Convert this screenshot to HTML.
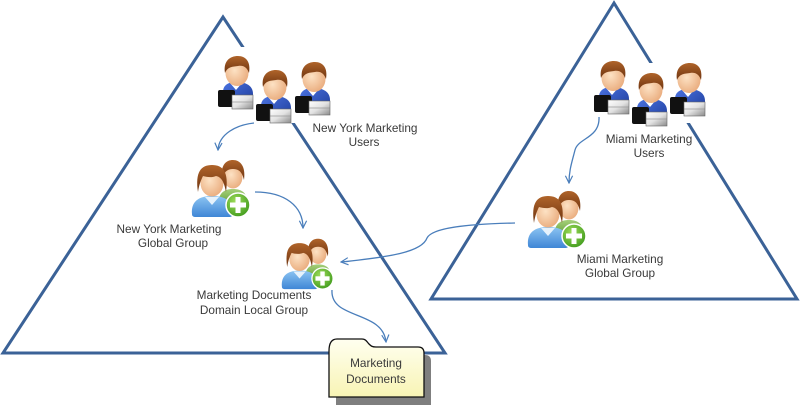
<!DOCTYPE html>
<html><head><meta charset="utf-8"><style>
html,body{margin:0;padding:0;background:#fff;}
svg{display:block;}
text{font-family:"Liberation Sans",sans-serif;font-size:11.8px;fill:#3a3a3a;}
</style></head><body>
<svg width="800" height="408" viewBox="0 0 800 408" xmlns="http://www.w3.org/2000/svg">
<defs>
 <linearGradient id="gBlue" x1="0" y1="0" x2="1" y2="1"><stop offset="0" stop-color="#4a72e0"/><stop offset="1" stop-color="#1e3c9a"/></linearGradient>
 <linearGradient id="gGray" x1="0" y1="0" x2="1" y2="1"><stop offset="0" stop-color="#ffffff"/><stop offset="0.5" stop-color="#e2e2e2"/><stop offset="1" stop-color="#8a8a8a"/></linearGradient>
 <radialGradient id="gFace" cx="0.4" cy="0.4" r="0.7"><stop offset="0" stop-color="#fde2c4"/><stop offset="1" stop-color="#e8a878"/></radialGradient>
 <linearGradient id="gHair" x1="0" y1="0" x2="0" y2="1"><stop offset="0" stop-color="#b0642a"/><stop offset="1" stop-color="#6e3410"/></linearGradient>
 <linearGradient id="gLBlue" x1="0" y1="0" x2="0" y2="1"><stop offset="0" stop-color="#8cc4f2"/><stop offset="1" stop-color="#3f86d6"/></linearGradient>
 <linearGradient id="gGreenShirt" x1="0" y1="0" x2="0" y2="1"><stop offset="0" stop-color="#a6d07a"/><stop offset="1" stop-color="#5c9a32"/></linearGradient>
 <radialGradient id="gPlus" cx="0.4" cy="0.35" r="0.7"><stop offset="0" stop-color="#9fdc5a"/><stop offset="1" stop-color="#3f9a1c"/></radialGradient>
 <linearGradient id="gFolder" x1="0" y1="0" x2="0" y2="1"><stop offset="0" stop-color="#fffff0"/><stop offset="1" stop-color="#f8f4b4"/></linearGradient>

 <symbol id="user" viewBox="0 0 36 54">
  <path d="M5,36 C5,28 12,26 18,26 C27,26 35,29 35,38 L35,50 L5,50 Z" fill="url(#gBlue)"/>
  <path d="M12,27 L18,34 L24,27 Z" fill="#fff"/>
  <rect x="0" y="34" width="17" height="17" rx="2" fill="#111"/>
  <path d="M14,39 L35,39 L35,53 L14,53 Z" fill="url(#gGray)"/>
  <line x1="14" y1="46" x2="35" y2="46" stroke="#999" stroke-width="0.8"/>
  <rect x="14" y="39" width="21" height="14" fill="none" stroke="#666" stroke-width="0.6"/>
  <ellipse cx="19" cy="17" rx="11.5" ry="13" fill="url(#gFace)"/>
  <path d="M7,17 C5,5 12,0 20,0 C28,0 33,6 31,17 C29,11 25,9 20,10 C15,11 10,10 7,17 Z" fill="url(#gHair)"/>
 </symbol>

 <symbol id="group" viewBox="0 0 62 60">
  <path d="M28,48 C28,36 33,31 43,31 C53,31 58,36 58,48 Z" fill="url(#gGreenShirt)"/>
  <ellipse cx="43" cy="19" rx="9.5" ry="11.5" fill="url(#gFace)"/>
  <path d="M32,22 C30,7 36,2 43,2 C50,2 56,8 54,22 C52,13 48,11 43,11 C38,11 34,13 32,22 Z" fill="url(#gHair)"/>
  <path d="M2,56 C1,44 8,38 22,38 C37,38 43,44 43,56 C43,58 41,59 39,59 L6,59 C3,59 2,58 2,56 Z" fill="url(#gLBlue)"/>
  <path d="M15,39 L22,47 L29,39 Z" fill="#e6f2fc"/>
  <ellipse cx="22" cy="25" rx="11.5" ry="13.5" fill="url(#gFace)"/>
  <path d="M8,34 C5,14 11,7 22,7 C33,7 39,14 36,34 C34,23 31,19 26,18 C22,20 16,19 13,18 C11,22 9,27 8,34 Z" fill="url(#gHair)"/>
  <circle cx="48" cy="47" r="12" fill="url(#gPlus)" stroke="#fff" stroke-width="1.5"/>
  <rect x="45.5" y="39" width="5" height="16" fill="#fff"/>
  <rect x="40" y="44.5" width="16" height="5" fill="#fff"/>
 </symbol>

 <marker id="arr" viewBox="0 0 10 10" refX="9" refY="5" markerWidth="9" markerHeight="9" markerUnits="userSpaceOnUse" orient="auto">
  <path d="M1,1 L9,5 L1,9" fill="none" stroke="#4a7ebb" stroke-width="1.3"/>
 </marker>
</defs>

<polygon points="223,17 3,353 445,353" fill="none" stroke="#3b6297" stroke-width="3" stroke-linejoin="miter"/>
<polygon points="614,3 431,299 797,299" fill="none" stroke="#3b6297" stroke-width="3" stroke-linejoin="miter"/>

<rect x="218" y="47" width="115" height="76" fill="#fff"/>
<rect x="592" y="63" width="115" height="60" fill="#fff"/>

<use href="#user" x="218" y="56" width="36" height="54"/>
<use href="#user" x="256" y="70" width="36" height="54"/>
<use href="#user" x="295" y="62" width="36" height="54"/>

<use href="#user" x="594" y="61" width="36" height="54"/>
<use href="#user" x="632" y="73" width="36" height="54"/>
<use href="#user" x="670" y="63" width="36" height="54"/>

<use href="#group" x="190" y="158" width="62" height="60"/>
<use href="#group" x="280" y="237" width="55" height="53"/>
<use href="#group" x="526" y="189" width="62" height="60"/>

<g fill="none" stroke="#4a7ebb" stroke-width="1.3" marker-end="url(#arr)">
 <path d="M254,123 C236,125 219,134 218,150"/>
 <path d="M255,192 C285,192 303,206 303,228"/>
 <path d="M332,290 C330,320 383,310 386,342"/>
 <path d="M599,117 C600,138 578,138 575,150 C572,162 569,170 569,183"/>
 <path d="M515,223 C465,224 432,228 427,238 C422,252 390,257 341,262"/>
</g>

<path transform="translate(7,8)" d="M329,397 L329,351 C329,344 331,339 337,339 L362,339 C366,339 367,342 369,344 C371,346 372,347 376,347 L418,347 C422,347 424,349 424,353 L424,397 Z" fill="#7f7f7f"/>
<path d="M329,397 L329,351 C329,344 331,339 337,339 L362,339 C366,339 367,342 369,344 C371,346 372,347 376,347 L418,347 C422,347 424,349 424,353 L424,397 Z" fill="url(#gFolder)" stroke="#111" stroke-width="1.3"/>

<text x="365" y="132" text-anchor="middle">New York Marketing</text>
<text x="364" y="146" text-anchor="middle">Users</text>

<text x="649" y="143" text-anchor="middle">Miami Marketing</text>
<text x="649" y="157" text-anchor="middle">Users</text>

<text x="169" y="233" text-anchor="middle">New York Marketing</text>
<text x="173" y="247" text-anchor="middle">Global Group</text>

<text x="254" y="299" text-anchor="middle">Marketing Documents</text>
<text x="254" y="314" text-anchor="middle">Domain Local Group</text>

<text x="620" y="263" text-anchor="middle">Miami Marketing</text>
<text x="620" y="277" text-anchor="middle">Global Group</text>

<text x="376" y="367" text-anchor="middle">Marketing</text>
<text x="376" y="383" text-anchor="middle">Documents</text>
</svg>
</body></html>
